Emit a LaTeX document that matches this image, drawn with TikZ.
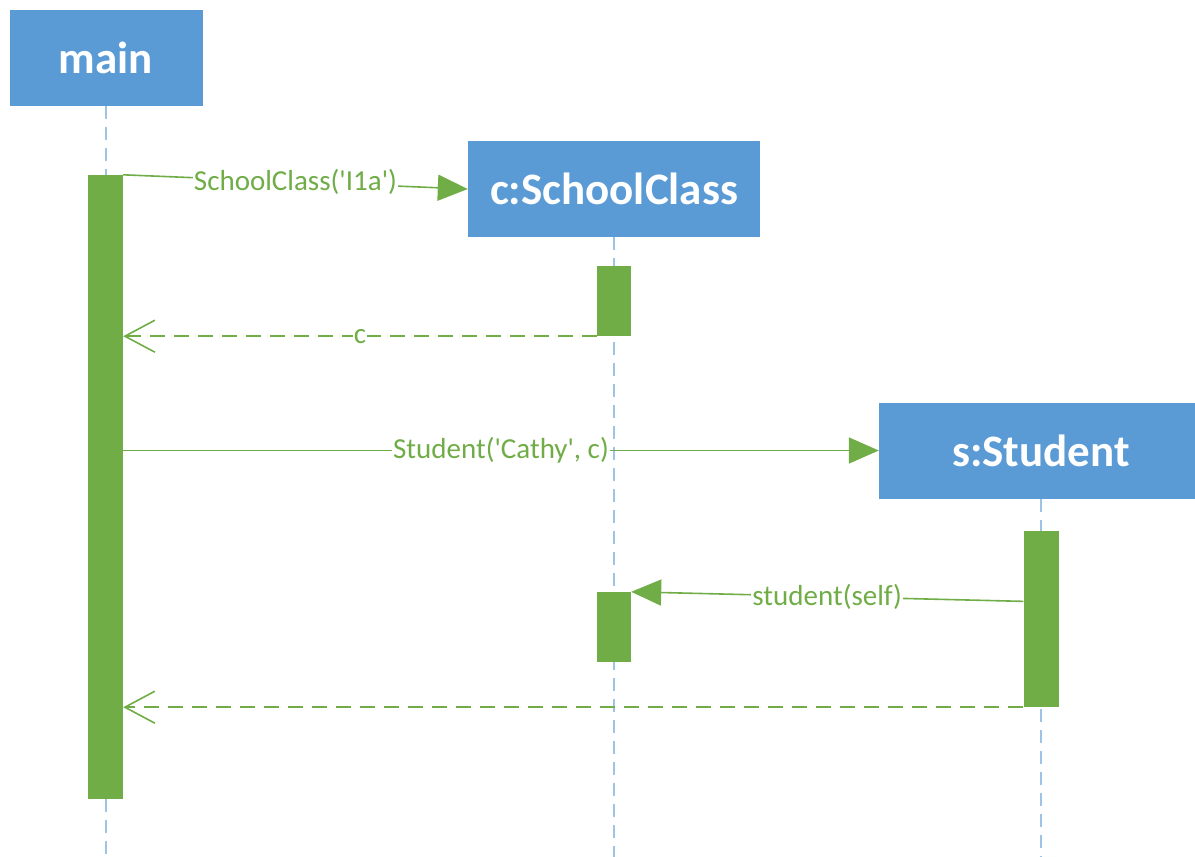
\documentclass[tikz,border=0pt]{standalone}
\usepackage{fontspec}
\setmainfont{Carlito}
\usepackage{tikz}
\usetikzlibrary{arrows.meta,calc}
\usepackage{xcolor}
\definecolor{boxblue}{HTML}{5B9BD5}
\definecolor{lifeblue}{HTML}{9DC3E6}
\definecolor{actgreen}{HTML}{70AD47}
\newcommand{\sq}{\textquotesingle}

\begin{document}
\begin{tikzpicture}[x=1pt,y=-1pt]

    \tikzset{obj/.style = {shape=rectangle,fill=boxblue,text=white,minimum height=96pt,inner sep=0pt,font=\fontsize{45}{54}\selectfont\bfseries}}
    \tikzset{act/.style = {shape=rectangle,fill=actgreen,minimum width=35pt,inner sep=0pt}}
    \tikzset{life/.style = {draw=lifeblue,line width=2.5pt,dash pattern=on 13pt off 8pt}}
    \tikzset{msg/.style = {draw=actgreen,line width=1.6pt,-{Triangle[length=30pt,width=26pt]}}}
    \tikzset{ret/.style = {draw=actgreen,line width=1.6pt,dash pattern=on 15pt off 9pt,-{Straight Barb[length=30pt,width=32pt,line width=1.6pt]}}}
    \tikzset{lbl/.style = {fill=white,text=actgreen,inner sep=1pt,font=\fontsize{29}{34}\selectfont}}
    \useasboundingbox (0,0) rectangle (1195,857);
    \node[obj,minimum width=193pt] (main) at (106,58) {main};
    \node[obj,minimum width=292pt] (sc) at (614,189) {c:SchoolClass};
    \node[obj,minimum width=324pt] (st) at (1041,450.5) {s:Student};
    \coordinate (bottom) at (0,857);
    %lifelines
    \draw[life] (main.south) -- (main.south |- bottom);
    \draw[life] (sc.south) -- (sc.south |- bottom);
    \draw[life] (st.south) -- (st.south |- bottom);
    %activations
    \node[act,minimum height=624pt] (mainact) at (105.5,487) {};
    \node[act,minimum width=34pt,minimum height=70pt] (scact1) at (614,301) {};
    \node[act,minimum width=34pt,minimum height=70pt] (scact2) at (614,627) {};
    \node[act,minimum height=176pt] (stact) at (1041,619) {};
    %messages
    \draw[msg] (mainact.north east) -- node[lbl] {SchoolClass(\sq I1a\sq)} (sc.west);
    \draw[ret] (scact1.south west) -- node[lbl] {c} (mainact.east |- scact1.south west);
    \draw[msg] (mainact.east |- st.west) -- node[lbl] {Student(\sq Cathy\sq, c)} (st.west);
    \draw[msg] ($(stact.north west)!0.4!(stact.south west)$) -- node[lbl] {student(self)} (scact2.north east);
    \draw[ret] (stact.south west) -- (mainact.east |- stact.south west);
\end{tikzpicture}
\end{document}
